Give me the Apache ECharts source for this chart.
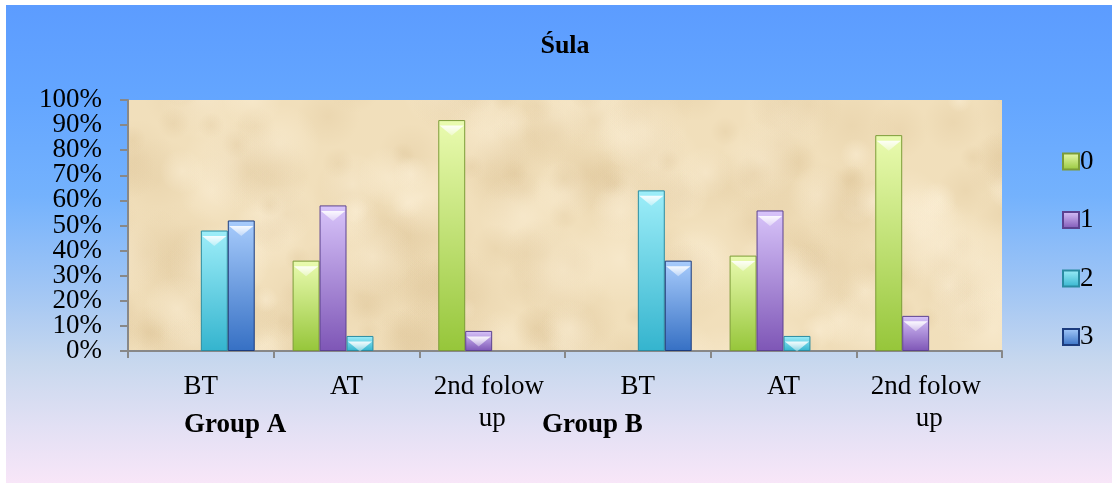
<!DOCTYPE html>
<html>
<head>
<meta charset="utf-8">
<title>Śula</title>
<script src="https://cdn.jsdelivr.net/npm/echarts@6/dist/echarts.min.js"></script>
<style>
  html, body { margin: 0; padding: 0; background: #ffffff; width: 1112px; height: 483px; overflow: hidden; }
  #chart {
    position: absolute; left: 6px; top: 5px; width: 1106px; height: 478px;
    background: linear-gradient(to bottom, #5c9cff 0%, #64a6ff 20%, #74b2fd 40%, #a2c6f4 60%, #c8d8ee 75%, #e2e0f4 88%, #f8e6f8 100%);
  }
</style>
</head>
<body>
<div id="chart"></div>
<script>
// Categories along the x axis (two groups of three time points)
const categories = ['BT', 'AT', '2nd folow up', 'BT', 'AT', '2nd folow up'];
const groupLabels = ['Group A', 'Group B'];
const seriesNames = ['0', '1', '2', '3'];

// Share of patients per score, in percent
const score0 = [0, 36, 92, 0, 38, 86];
const score1 = [0, 58, 8, 0, 56, 14];
const score2 = [48, 6, 0, 64, 6, 0];
const score3 = [52, 0, 0, 36, 0, 0];

// Value axis ticks
const yMin = 0;
const yMax = 100;
const yStep = 10;

const FONT = '"Liberation Serif", "Times New Roman", serif';
const W = 1106, H = 478;

// top colour, bottom colour, edge colour for each score
const palette = [
  ['#eafbb0', '#96c63a', '#7c9c38'],
  ['#d8c4fa', '#7e56b6', '#5c4290'],
  ['#9eeef9', '#34b4ce', '#2a8ca2'],
  ['#a8ccfc', '#3670c4', '#1c3c7e']
];

const scoreData = [score0, score1, score2, score3];

// Parchment-like fill for the plotting area, built from soft blotches
function parchment() {
  const c = document.createElement('canvas');
  c.width = W; c.height = H;
  const g = c.getContext('2d');
  g.fillStyle = '#f1dfbb';
  g.fillRect(0, 0, W, H);
  const frac = t => ((t % 1) + 1) % 1;
  for (let k = 0; k < 260; k++) {
    const x = 100 + frac(Math.sin(k * 12.9898) * 43758.5453) * 920;
    const y = 80 + frac(Math.sin(k * 78.233) * 12345.6789) * 290;
    const r = 12 + frac(Math.sin(k * 3.71) * 999.1) * 36;
    const dark = k % 3 !== 0;
    const grad = g.createRadialGradient(x, y, 0, x, y, r);
    grad.addColorStop(0, dark ? 'rgba(214,186,138,0.22)' : 'rgba(252,240,216,0.5)');
    grad.addColorStop(1, dark ? 'rgba(214,186,138,0)' : 'rgba(252,240,216,0)');
    g.fillStyle = grad;
    g.beginPath();
    g.arc(x, y, r, 0, Math.PI * 2);
    g.fill();
  }
  return c;
}

function fillFor(c) {
  return new echarts.graphic.LinearGradient(0, 0, 0, 1, [
    { offset: 0, color: c[0] },
    { offset: 1, color: c[1] }
  ]);
}

const barSeries = scoreData.map((vals, i) => ({
  name: seriesNames[i],
  type: 'bar',
  barGap: '0%',
  barCategoryGap: '26%',
  data: vals.map(v => v === 0 ? { value: v, itemStyle: { borderWidth: 0 } } : v),
  itemStyle: {
    color: fillFor(palette[i]),
    borderColor: palette[i][2],
    borderWidth: 1
  },
  emphasis: { disabled: true }
}));

// Light bevel at the top of every bar
const bevelSeries = scoreData.map((vals, i) => ({
  name: 'bevel' + i,
  type: 'pictorialBar',
  barGap: '0%',
  barCategoryGap: '26%',
  symbol: 'path://M0,0L20,0L10,8Z',
  symbolSize: ['90%', 10],
  symbolPosition: 'end',
  symbolOffset: [0, '55%'],
  z: 5,
  silent: true,
  data: vals.map(v => ({ value: v, itemStyle: { opacity: v === 0 ? 0 : 0.9 } })),
  itemStyle: {
    color: new echarts.graphic.LinearGradient(0, 0, 0, 1, [
      { offset: 0, color: 'rgba(255,255,255,1)' },
      { offset: 1, color: 'rgba(255,255,255,0.4)' }
    ])
  }
}));

const legendIcon = 'path://M0,0L16,0L16,16L0,16Z';

const labelStyle = { fontFamily: FONT, fontSize: 27, color: '#000', margin: 26, interval: 0 };

// The percent labels are split over two stacked left axes (even and odd
// tens) so the tightly packed labels are all kept.
const yAxisBase = {
  type: 'value',
  min: yMin, max: yMax, interval: yStep,
  splitLine: { show: false }
};

const chart = echarts.init(document.getElementById('chart'), null, { renderer: 'canvas' });
chart.setOption({
  backgroundColor: 'transparent',
  animation: false,
  title: {
    text: 'Śula',
    left: 554,
    top: 23,
    textAlign: 'center',
    textStyle: { fontFamily: FONT, fontSize: 26, fontWeight: 'bold', color: '#000' }
  },
  legend: {
    data: seriesNames.map(n => ({ name: n, icon: legendIcon })),
    orient: 'vertical',
    left: 1051,
    top: 138,
    itemWidth: 16,
    itemHeight: 16,
    itemGap: 31.5,
    selectedMode: false,
    textStyle: { fontFamily: FONT, fontSize: 27, color: '#000', lineHeight: 26, padding: [0, 0, 0, -4] }
  },
  grid: {
    left: 122, top: 95, right: 110, bottom: 132,
    show: true,
    backgroundColor: { image: parchment(), repeat: 'no-repeat' },
    borderWidth: 0,
    outerBoundsMode: 'none'
  },
  xAxis: {
    type: 'category',
    data: categories,
    axisLine: { lineStyle: { color: '#888888', width: 2 } },
    axisTick: { show: true, length: 7, lineStyle: { color: '#888888', width: 2 } },
    axisLabel: {
      fontFamily: FONT, fontSize: 27, color: '#000', lineHeight: 32,
      margin: 20, interval: 0, width: 124, overflow: 'break'
    }
  },
  yAxis: [
    Object.assign({}, yAxisBase, {
      position: 'left',
      axisLine: { show: true, lineStyle: { color: '#888888', width: 2 } },
      axisTick: { show: true, length: 8, lineStyle: { color: '#888888', width: 2 } },
      axisLabel: Object.assign({}, labelStyle, {
        showMinLabel: true, showMaxLabel: true, hideOverlap: false,
        formatter: v => (v % (2 * yStep) === 0 ? v + '%' : '')
      })
    }),
    Object.assign({}, yAxisBase, {
      position: 'left',
      offset: 0,
      axisLine: { show: false },
      axisTick: { show: false },
      axisLabel: Object.assign({}, labelStyle, {
        showMinLabel: false, showMaxLabel: false, hideOverlap: false,
        formatter: v => (v % (2 * yStep) !== 0 ? v + '%' : '')
      })
    })
  ],
  graphic: [
    { type: 'text', left: 178, top: 407, style: { text: groupLabels[0], font: 'bold 27px ' + FONT, fill: '#000' } },
    { type: 'text', left: 536, top: 407, style: { text: groupLabels[1], font: 'bold 27px ' + FONT, fill: '#000' } }
  ],
  series: [...barSeries, ...bevelSeries]
});
</script>
</body>
</html>
